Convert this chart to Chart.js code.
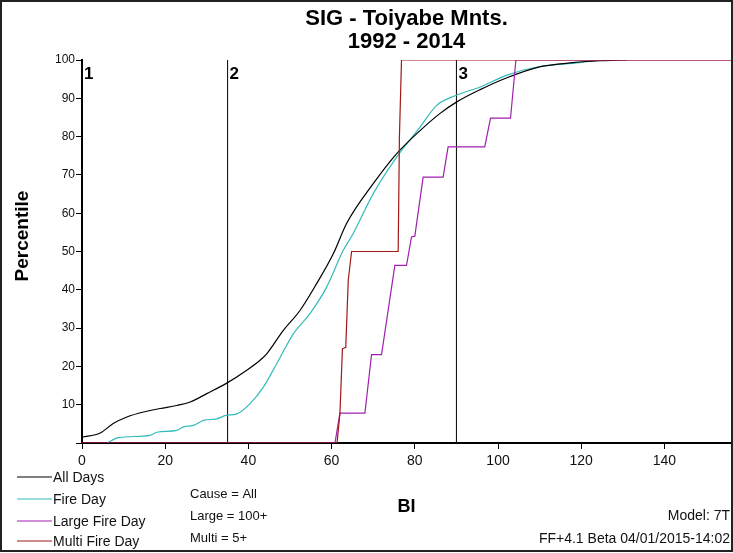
<!DOCTYPE html>
<html lang="en">
<head>
    <meta charset="UTF-8">
    <title>SIG - Toiyabe Mnts.</title>
    <script src="https://cdn.jsdelivr.net/npm/chart.js"></script>
    <style>
        body {
            margin: 0;
            background: white;
        }
        canvas {
            display: block;
        }
    </style>
</head>
<body>
    <canvas id="biChart" width="733" height="553"></canvas>
    <script>
        // values (BI on x, percentile on y)
        const allDaysBI  = [0, 4.4, 7.5, 10.8, 14.8, 18.8, 22.8, 26, 30, 34.6, 39.6, 42.8, 44.4, 48.4, 52.4, 56.4, 60.4, 63.6, 70, 75.6, 81.2, 86, 90, 95.6, 102, 110, 118, 124.5, 131];
        const allDaysPct = [1.5, 2.6, 5.1, 6.8, 8.1, 9, 9.8, 10.7, 12.9, 15.5, 19, 21.6, 23.3, 29.4, 34.6, 41.6, 49.4, 57.3, 67.7, 75.5, 81.5, 86, 89, 92.2, 95.3, 98.2, 99.3, 99.8, 100];

        const fireDayBI  = [6, 8.8, 16.4, 18, 22.8, 24.4, 26.8, 29.2, 32.4, 34.6, 37.2, 40.4, 43.6, 46.8, 50.8, 54.8, 58.8, 62.8, 65.2, 70, 75.6, 81.2, 85.2, 90, 95.6, 102, 110, 119.6, 124];
        const fireDayPct = [0, 1.4, 2, 2.8, 3.3, 4.2, 4.6, 5.9, 6.3, 7.2, 7.6, 10.3, 14.6, 20.7, 28.5, 33.8, 40.7, 50.3, 54.7, 65.1, 74.6, 82.4, 88.1, 90.8, 92.9, 96, 98.3, 99.3, 100];

        const largeFireBI  = [0, 60.8, 62, 68, 69.6, 72, 75.2, 78, 79.2, 80, 82, 86.8, 88, 96.8, 98.2, 103, 104.3, 156];
        const largeFirePct = [0, 0, 7.8, 7.8, 23.1, 23.1, 46.4, 46.4, 53.8, 54, 69.4, 69.4, 77.3, 77.3, 84.8, 84.8, 100, 100];

        const multiFireBI  = [0, 61.3, 62, 62.6, 63.4, 64, 64.8, 76, 76.3, 76.8, 156];
        const multiFirePct = [0, 0, 7.7, 24.6, 25, 42.5, 50, 50, 80, 100, 100];

        const markerBI = [0, 35, 90];
        const markerLabels = ['1', '2', '3'];

        const xTicks = [0, 20, 40, 60, 80, 100, 120, 140];
        const yTicks = [0, 10, 20, 30, 40, 50, 60, 70, 80, 90, 100];

        const seriesNames = ['All Days', 'Fire Day', 'Large Fire Day', 'Multi Fire Day'];
        const seriesColors = ['#000000', '#33bbbb', '#a020b0', '#a01818'];
        const noteLines = ['Cause = All', 'Large = 100+', 'Multi = 5+'];

        const FONT = '"Liberation Sans", Arial, sans-serif';

        function pts(xs, ys) {
            return xs.map((x, i) => ({ x: x, y: ys[i] }));
        }

        function lineSet(label, data, color, order, smooth) {
            return {
                label: label,
                data: data,
                showLine: true,
                borderColor: color,
                borderWidth: 1.2,
                pointRadius: 0,
                fill: false,
                cubicInterpolationMode: smooth ? 'monotone' : 'default',
                tension: 0,
                order: order
            };
        }

        const datasets = [
            lineSet(seriesNames[0], pts(allDaysBI, allDaysPct), seriesColors[0], 2, true),
            lineSet(seriesNames[1], pts(fireDayBI, fireDayPct), seriesColors[1], 3, true),
            lineSet(seriesNames[2], pts(largeFireBI, largeFirePct), seriesColors[2], 1, false),
            lineSet(seriesNames[3], pts(multiFireBI, multiFirePct), seriesColors[3], 0, false)
        ];
        // vertical marker lines 1, 2, 3
        markerBI.forEach(v => {
            datasets.push({
                label: 'marker',
                data: [{ x: v, y: 0 }, { x: v, y: 100 }],
                showLine: true,
                borderColor: '#000',
                borderWidth: 1,
                pointRadius: 0,
                order: 4
            });
        });

        // extra texts: title, axis titles, legend, notes, frame
        const decorations = {
            id: 'decorations',
            afterDraw(chart) {
                const c = chart.ctx;
                const area = chart.chartArea;
                const xs = chart.scales.x;
                const cx = (area.left + area.right) / 2;
                c.save();
                c.fillStyle = '#000';

                c.font = 'bold 22px ' + FONT;
                c.textAlign = 'center';
                c.textBaseline = 'middle';
                c.fillText('SIG - Toiyabe Mnts.', cx, 19);
                c.fillText('1992 - 2014', cx, 42);

                c.font = 'bold 18px ' + FONT;
                c.fillText('BI', cx, 507);

                c.save();
                c.translate(23, 236);
                c.rotate(-Math.PI / 2);
                c.font = 'bold 19px ' + FONT;
                c.fillText('Percentile', 0, 0);
                c.restore();

                // marker numbers
                c.font = 'bold 17px ' + FONT;
                c.textAlign = 'left';
                c.textBaseline = 'top';
                markerBI.forEach((v, i) => {
                    c.fillText(markerLabels[i], xs.getPixelForValue(v) + 2, area.top + 6);
                });

                // legend
                c.font = '14px ' + FONT;
                c.textBaseline = 'middle';
                const legendY = [477, 499, 521, 541];
                seriesNames.forEach((name, i) => {
                    c.strokeStyle = seriesColors[i];
                    c.lineWidth = 1.2;
                    c.beginPath();
                    c.moveTo(17, legendY[i]);
                    c.lineTo(52, legendY[i]);
                    c.stroke();
                    c.fillStyle = '#111';
                    c.fillText(name, 53, legendY[i] + 1);
                });

                c.font = '13px ' + FONT;
                const noteY = [494, 516, 538];
                noteLines.forEach((t, i) => c.fillText(t, 190, noteY[i]));

                c.textAlign = 'right';
                c.font = '14px ' + FONT;
                c.fillText('Model: 7T', 730, 516);
                c.fillText('FF+4.1 Beta 04/01/2015-14:02', 730, 539);

                c.strokeStyle = '#222';
                c.lineWidth = 2;
                c.strokeRect(1, 1, 731, 550);
                c.restore();
            }
        };

        const ctx = document.getElementById('biChart').getContext('2d');
        const chart = new Chart(ctx, {
            type: 'scatter',
            data: { datasets: datasets },
            options: {
                responsive: false,
                animation: false,
                devicePixelRatio: 1,
                layout: { padding: { left: 0, top: 60, right: 2, bottom: 0 } },
                plugins: {
                    legend: { display: false },
                    title: { display: false },
                    tooltip: { enabled: false }
                },
                scales: {
                    x: {
                        type: 'linear',
                        min: 0,
                        max: 156,
                        afterBuildTicks: scale => { scale.ticks = xTicks.map(v => ({ value: v })); },
                        afterFit: scale => { scale.height = 110; },
                        grid: { drawOnChartArea: false, tickLength: 6, color: '#000' },
                        border: { color: '#000', width: 2 },
                        ticks: {
                            color: '#111',
                            padding: 4,
                            maxRotation: 0,
                            font: { family: FONT, size: 14 }
                        }
                    },
                    y: {
                        type: 'linear',
                        min: 0,
                        max: 100,
                        afterBuildTicks: scale => { scale.ticks = yTicks.map(v => ({ value: v })); },
                        afterFit: scale => { scale.width = 82; },
                        grid: { drawOnChartArea: false, tickLength: 6, color: '#000' },
                        border: { color: '#000', width: 2 },
                        ticks: {
                            color: '#111',
                            padding: 1,
                            font: { family: FONT, size: 12 },
                            callback: v => (v === 0 ? '' : v)
                        }
                    }
                }
            },
            plugins: [decorations]
        });
    </script>
</body>
</html>
